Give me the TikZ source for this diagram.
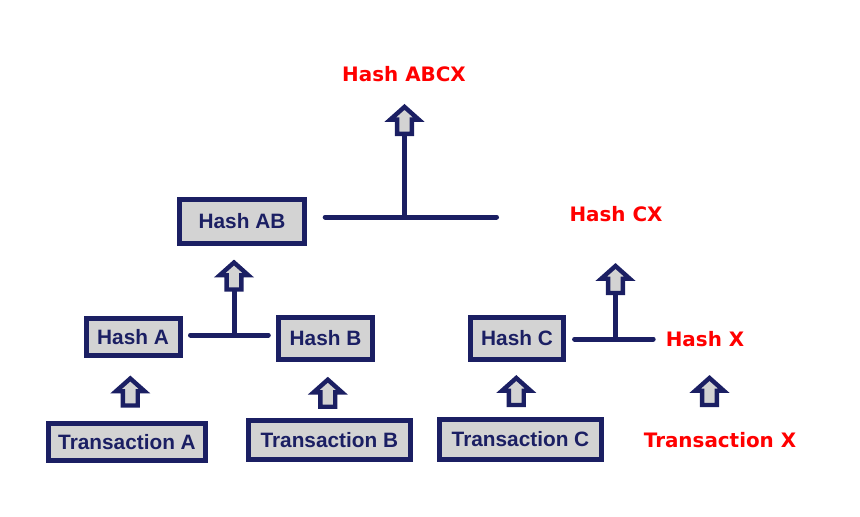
\documentclass[tikz,border=0pt]{standalone}
\usepackage{fontspec}
\usepackage{tikz}
\usetikzlibrary{positioning, calc}
\newfontfamily\boxfont{Liberation Sans}
\newfontfamily\redfont{DejaVu Sans}
\definecolor{navy}{RGB}{27,31,99}
\definecolor{boxgray}{RGB}{211,211,211}
\tikzset{
  hashbox/.style={draw=navy, line width=5pt, fill=boxgray, inner sep=0pt,
    text=navy, font=\boxfont\bfseries\fontsize{20.8}{24}\selectfont,
    text height=14.8pt, text depth=0pt},
  redlabel/.style={inner sep=0pt, text=red,
    font=\redfont\bfseries\fontsize{19.9}{24}\selectfont,
    text height=14.5pt, text depth=0pt},
  link/.style={draw=navy, line width=5pt, line cap=round},
  arrowline/.style={draw=navy, line width=4.4pt, fill=boxgray, line join=miter},
  uparrow/.pic={
    \draw[arrowline] (-7.4,0) -- (-7.4,-14.3) -- (-14.25,-14.3) -- (0,-27)
      -- (14.25,-14.3) -- (7.4,-14.3) -- (7.4,0) -- cycle;
    \coordinate (-base) at (0,0);
  }
}
\begin{document}
\begin{tikzpicture}[x=1pt, y=-1pt]
    \useasboundingbox (0,0) rectangle (860,517);

    % Hash boxes
    \node[hashbox, minimum width=124.4pt, minimum height=44.3pt] (hashAB) at (242,221.3) {Hash AB};
    \node[hashbox, minimum width=94pt, minimum height=37pt] (hashA) at (133,337) {Hash A};
    \node[hashbox, minimum width=94pt, minimum height=42pt] (hashB) at (325.5,338.3) {Hash B};
    \node[hashbox, minimum width=93pt, minimum height=42pt] (hashC) at (517,338.3) {Hash C};

    % Transaction boxes
    \node[hashbox, minimum width=157pt, minimum height=37pt] (txA) at (127,441.7) {Transaction A};
    \node[hashbox, minimum width=162pt, minimum height=39pt] (txB) at (329.3,439.8) {Transaction B};
    \node[hashbox, minimum width=162pt, minimum height=40pt] (txC) at (520.5,439.3) {Transaction C};

    % New (red) items
    \node[redlabel] (hashABCX) at (404,74) {Hash ABCX};
    \node[redlabel] (hashCX) at (616,214) {Hash CX};
    \node[redlabel] (hashX) at (705,339) {Hash X};
    \node[redlabel] (txX) at (720,440.5) {Transaction X};

    % Junctions
    \coordinate (jABCX) at (404.5,217);
    \coordinate (endABCX) at (496.5,217);
    \coordinate (jAB) at (234,335);
    \coordinate (jCX) at (615,339);
    \coordinate (endCX) at (653.2,339);

    % Stems
    \draw[link] ([xshift=18.5pt]hashAB.east |- jABCX) -- (endABCX);
    \draw[link] (jABCX) -- (404.5,130);
    \draw[link] ([xshift=8pt]hashA.east |- jAB) -- ([xshift=-7.7pt]hashB.west |- jAB);
    \draw[link] (jAB) -- (234,285);
    \draw[link] ([xshift=8.6pt]hashC.east |- jCX) -- (endCX);
    \draw[link] (jCX) -- (615,290);

    % Block arrows
    \pic (arrABCX) at (404.5,133.9) {uparrow};
    \pic (arrAB) at (234,289.5) {uparrow};
    \pic (arrCX) at (615.5,293) {uparrow};
    \pic (arrA) at (130.3,405.5) {uparrow};
    \pic (arrB) at (327.8,406.7) {uparrow};
    \pic (arrC) at (516.3,405) {uparrow};
    \pic (arrX) at (709.5,405) {uparrow};
\end{tikzpicture}
\end{document}
